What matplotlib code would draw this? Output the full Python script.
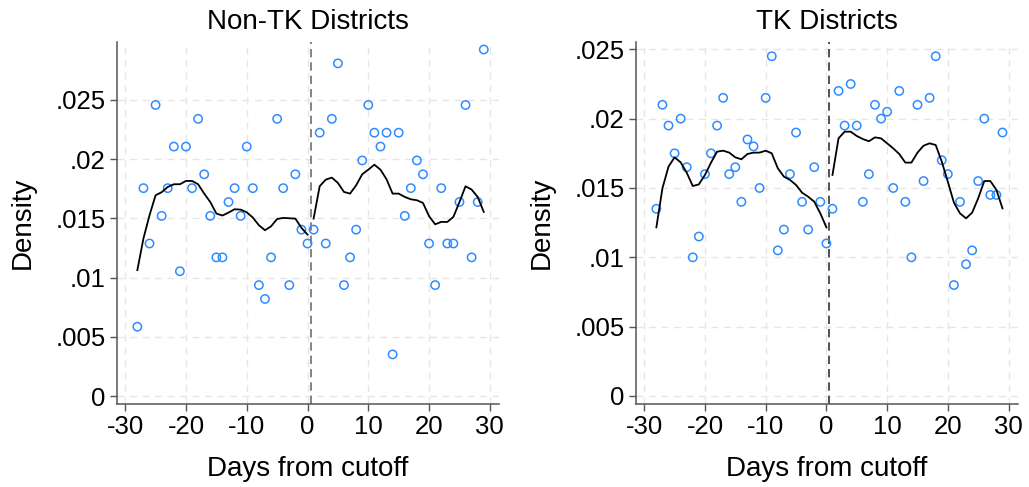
import matplotlib
matplotlib.use("Agg")
import matplotlib.pyplot as plt
from matplotlib.ticker import FuncFormatter

plt.rcParams["font.family"] = ["Liberation Sans", "DejaVu Sans"]
plt.rcParams["axes.unicode_minus"] = False

days_left = list(range(-28, 1))
days_right = list(range(1, 30))

# Non-TK districts: binned densities
nontk_left = [.00585, .01754, .01287, .02456, .0152, .01754, .02105, .01053, .02105, .01754,
              .02339, .01871, .0152, .0117, .0117, .01637, .01754, .0152, .02105, .01754,
              .00936, .00819, .0117, .02339, .01754, .00936, .01871, .01404, .01287]
nontk_right = [.01404, .02222, .01287, .02339, .02807, .00936, .0117, .01404, .01988, .02456,
               .02222, .02105, .02222, .00351, .02222, .0152, .01754, .01988, .01871, .01287,
               .00936, .01754, .01287, .01287, .01637, .02456, .0117, .01637, .02924]
nontk_fit_left = [.01062, .01329, .01525, .01694, .0172, .01764, .01787, .01787, .01815, .01815,
                  .01787, .01708, .01637, .0154, .01523, .01548, .01576, .01573, .0155, .01506,
                  .01441, .01399, .01432, .01494, .01503, .015, .01497, .01419, .01362]
nontk_fit_right = [.01497, .0177, .01826, .01843, .01798, .01722, .01708, .01778, .01871, .0191,
                   .01952, .0191, .01829, .01708, .01708, .0168, .0166, .01652, .01629, .01517,
                   .01449, .01469, .01469, .01511, .01637, .0177, .01742, .0168, .01553]

# TK districts: binned densities
tk_left = [.0135, .021, .0195, .0175, .02, .0165, .01, .0115, .016, .0175,
           .0195, .0215, .016, .0165, .014, .0185, .018, .015, .0215, .0245,
           .0105, .012, .016, .019, .014, .012, .0165, .014, .011]
tk_right = [.0135, .022, .0195, .0225, .0195, .014, .016, .021, .02, .0205,
            .015, .022, .014, .01, .021, .0155, .0215, .0245, .017, .016,
            .008, .014, .0095, .0105, .0155, .02, .0145, .0145, .019]
tk_fit_left = [.01216, .01498, .01654, .01721, .01685, .0161, .01514, .01526, .01594, .01683,
               .01762, .01769, .01755, .01721, .01707, .01745, .01755, .01755, .01769, .0175,
               .01642, .01582, .01558, .01522, .01466, .01437, .01401, .01317, .01216]
tk_fit_right = [.01594, .01858, .01906, .01906, .01875, .01853, .01837, .01865, .01858, .01822,
                .01786, .01745, .01683, .01683, .01755, .01805, .01822, .0181, .0169, .01545,
                .01394, .01317, .01281, .01322, .01426, .0155, .0155, .01486, .01353]

x_ticks = [-30, -20, -10, 0, 10, 20, 30]
y_ticks = [0, .005, .01, .015, .02, .025]


def fmt(v, pos):
    if abs(v) < 1e-12:
        return "0"
    return ("%.3f" % v).rstrip("0").lstrip("0")


fig = plt.figure(figsize=(10.29, 4.87), dpi=100)
ax1 = fig.add_axes([0.1134, 0.1698, 0.3715, 0.7446])
ax2 = fig.add_axes([0.6178, 0.1698, 0.3712, 0.7446])

panels = [
    (ax1, "Non-TK Districts", nontk_left, nontk_right, nontk_fit_left, nontk_fit_right,
     (-0.0007, 0.0299), "#6e6e6e"),
    (ax2, "TK Districts", tk_left, tk_right, tk_fit_left, tk_fit_right,
     (-0.0006, 0.02555), "#333333"),
]

for ax, title, pl, pr, fl, fr, ylim, vcol in panels:
    ax.grid(True, color="#e6e6e6", linestyle=(0, (5, 4)), linewidth=1.0)
    ax.set_axisbelow(True)
    ax.scatter(days_left + days_right, pl + pr, s=36, facecolors="none",
               edgecolors="#2e8cff", linewidths=1.1, zorder=3)
    ax.plot(days_left, fl, color="black", linewidth=1.3, zorder=4)
    ax.plot(days_right, fr, color="black", linewidth=1.3, zorder=4)
    ax.axvline(0.5, color=vcol, linestyle=(0, (5, 3)), linewidth=1.2, zorder=2)
    ax.set_xlim(-31.4, 31.5)
    ax.set_ylim(*ylim)
    ax.set_xticks(x_ticks)
    ax.set_yticks(y_ticks)
    ax.yaxis.set_major_formatter(FuncFormatter(fmt))
    ax.tick_params(labelsize=18.5, length=5, width=1.0, color="#555555", pad=3)
    for s in ["top", "right"]:
        ax.spines[s].set_visible(False)
    for s in ["left", "bottom"]:
        ax.spines[s].set_color("#555555")
        ax.spines[s].set_linewidth(1.1)
    ax.set_title(title, fontsize=20, pad=9)
    ax.set_xlabel("Days from cutoff", fontsize=20, labelpad=12)
    ax.set_ylabel("Density", fontsize=20, labelpad=14)

fig.savefig("out.png", dpi=100)
